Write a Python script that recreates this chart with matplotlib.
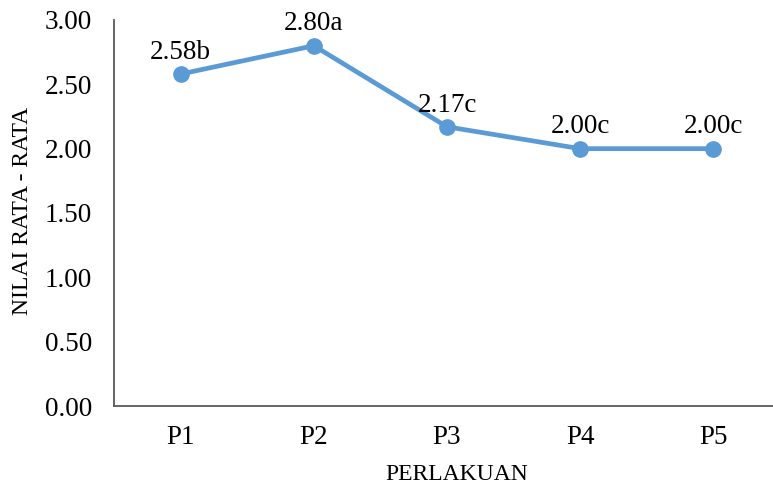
import matplotlib
matplotlib.use("Agg")
import matplotlib.pyplot as plt

categories = ["P1", "P2", "P3", "P4", "P5"]
values = [2.58, 2.80, 2.17, 2.00, 2.00]
labels = ["2.58b", "2.80a", "2.17c", "2.00c", "2.00c"]
yticks = [0.0, 0.5, 1.0, 1.5, 2.0, 2.5, 3.0]

plt.rcParams['font.family'] = ['Liberation Serif', 'DejaVu Serif']

W, H = 773, 488
fig = plt.figure(figsize=(W/100, H/100), dpi=100)
left, right = 114, 780
top, bottom = 20, 406
ax = fig.add_axes([left/W, 1 - bottom/H, (right-left)/W, (bottom-top)/H])

x = list(range(len(categories)))
ax.plot(x, values, color="#5B9BD5", lw=3.4, marker="o", ms=11, zorder=3, clip_on=False)
for xi, v, lab in zip(x, values, labels):
    ax.annotate(lab, (xi, v), xytext=(0, 11), textcoords="offset points",
                ha="center", va="baseline", fontsize=19.5, color="black")

ax.set_xlim(-0.5, 4.5)
ax.set_ylim(0, 3.0)
ax.set_xticks(x)
ax.set_xticklabels(categories)
ax.set_yticks(yticks)
ax.set_yticklabels([f"{t:.2f}" for t in yticks])
ax.tick_params(axis="both", length=0, labelsize=19.5, colors="black")
ax.tick_params(axis="y", pad=16)
ax.tick_params(axis="x", pad=14)
for s in ["top", "right"]:
    ax.spines[s].set_visible(False)
for s in ["left", "bottom"]:
    ax.spines[s].set_color("#595959")
    ax.spines[s].set_linewidth(1.3)

fig.text(457/W, 1 - 475/H, "PERLAKUAN", ha="center", va="center", fontsize=17)
fig.text(23/W, 1 - 211/H, "NILAI RATA - RATA", ha="center", va="center", rotation=90, fontsize=17)

fig.savefig("out.png", dpi=100)
